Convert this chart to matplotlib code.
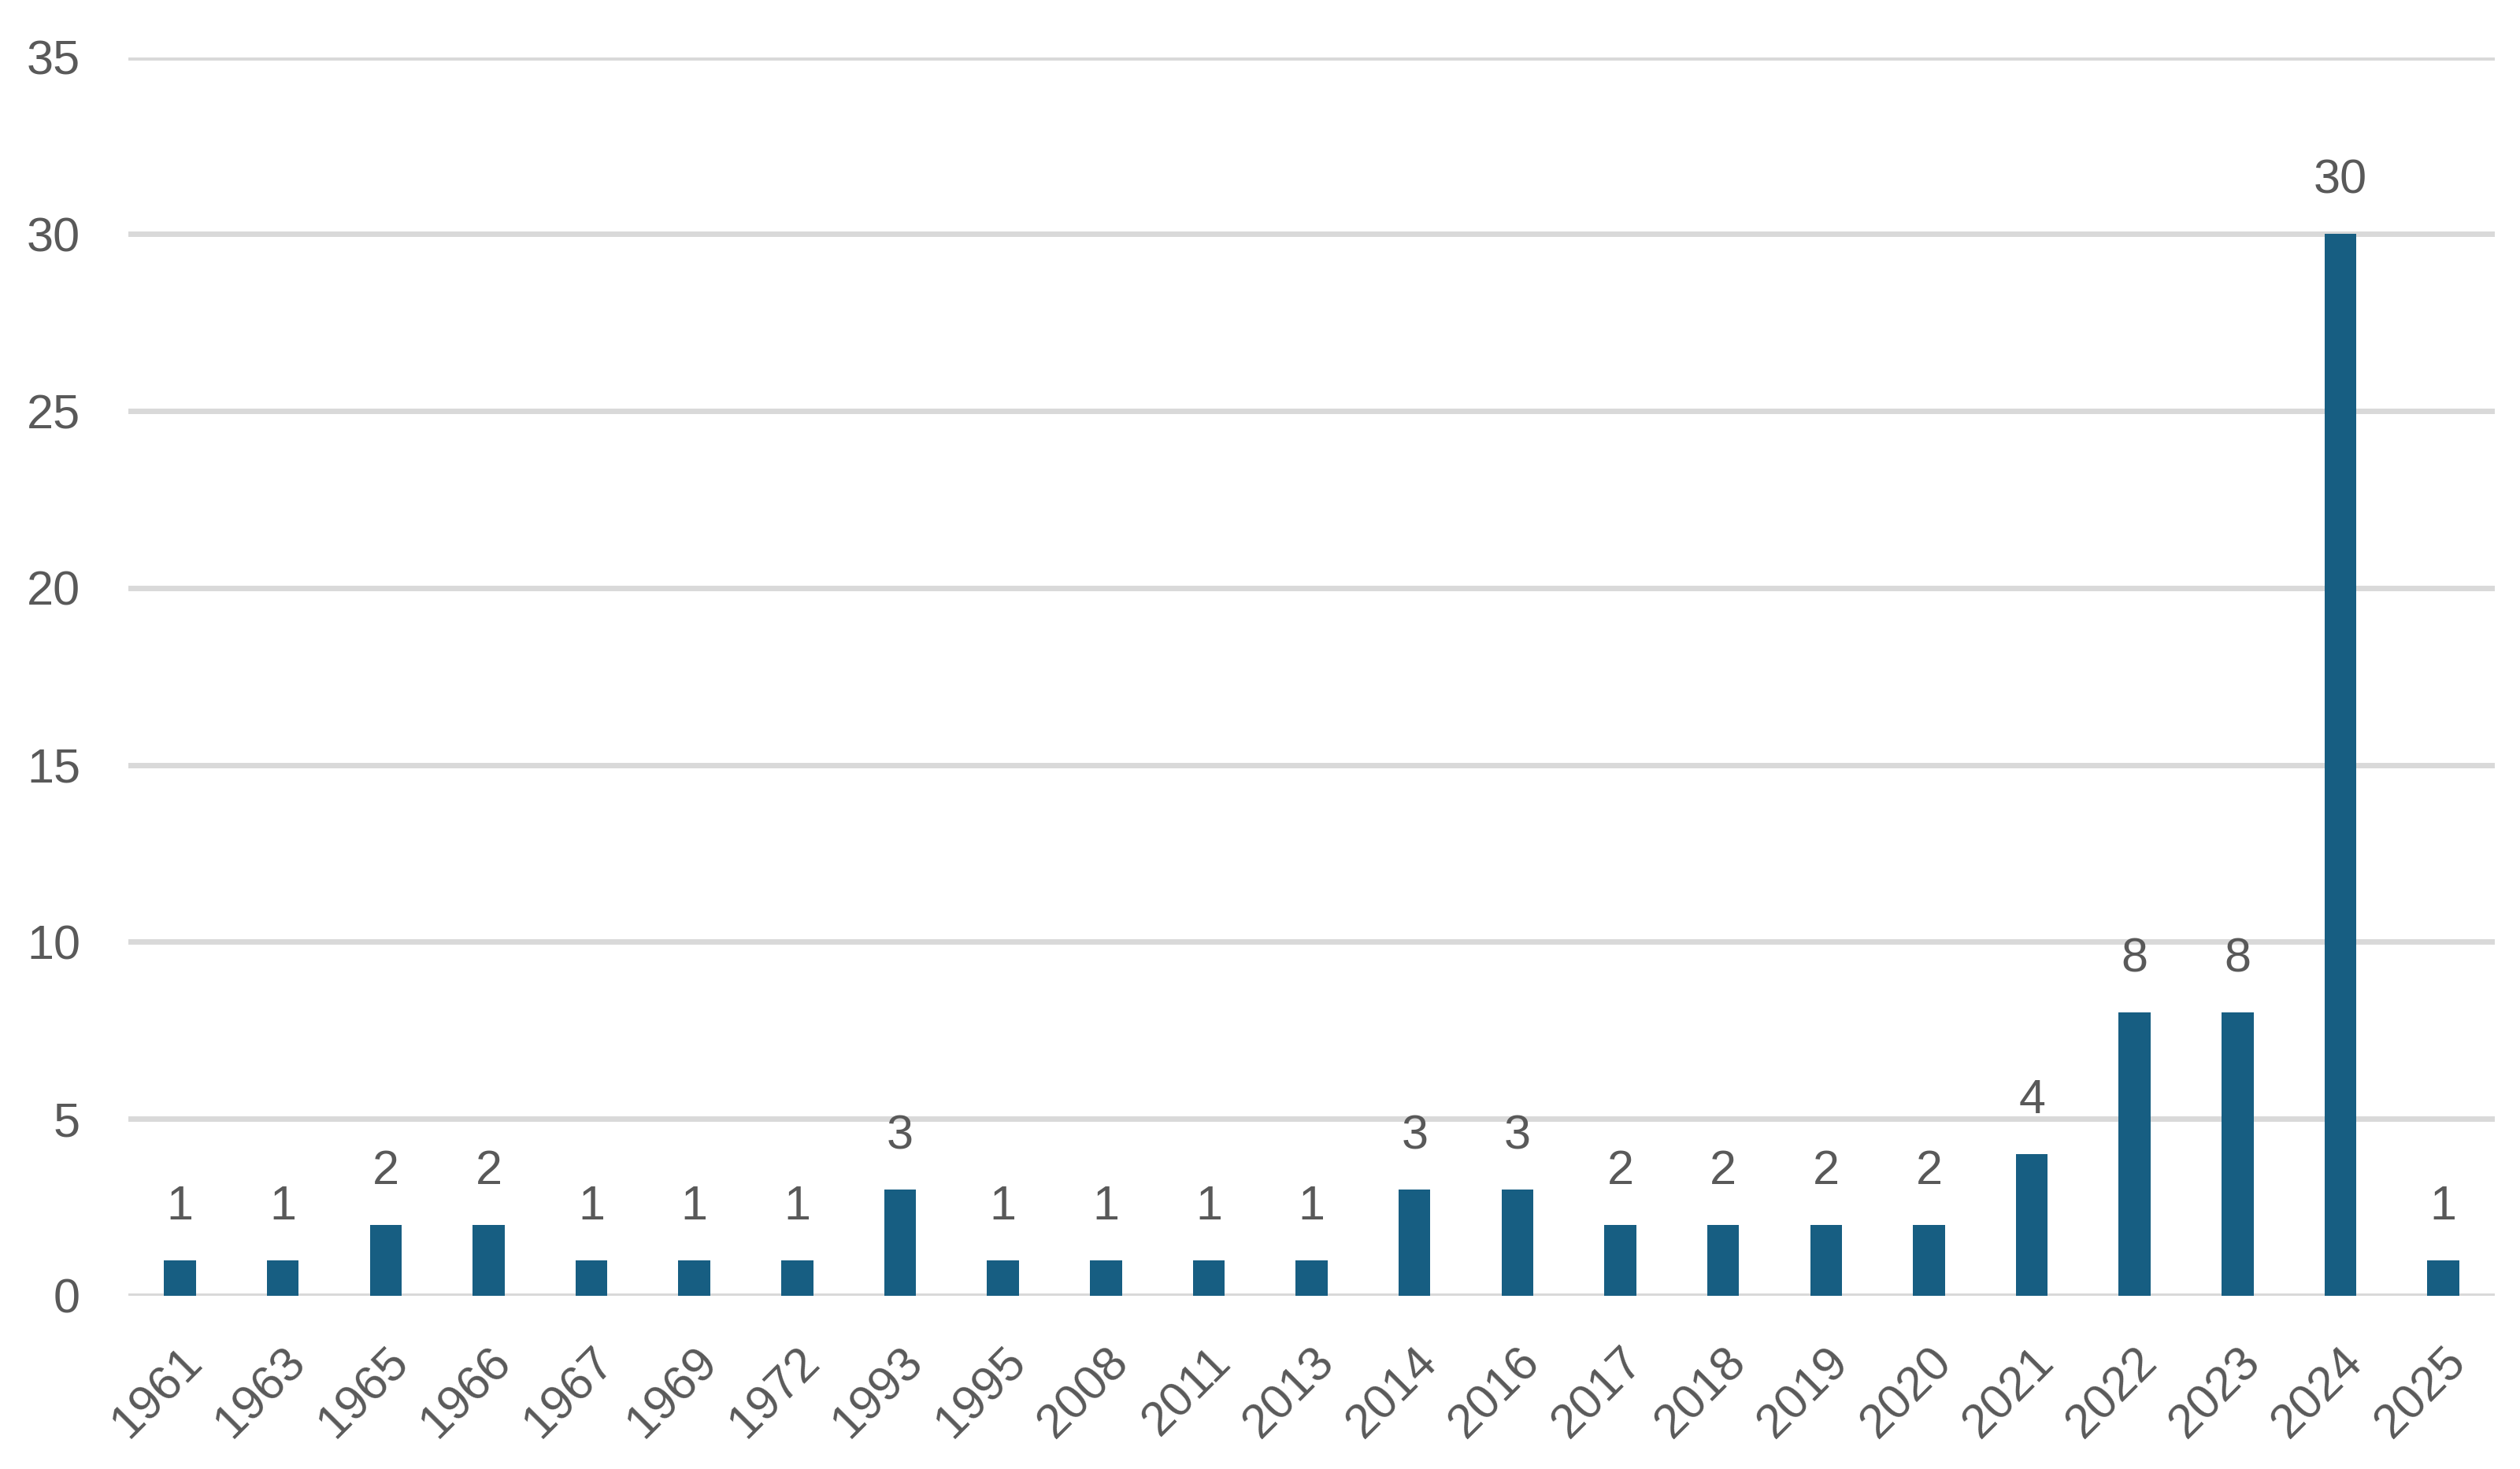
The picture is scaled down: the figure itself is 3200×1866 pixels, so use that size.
import matplotlib.pyplot as plt

years = ["1961", "1963", "1965", "1966", "1967", "1969", "1972", "1993", "1995", "2008",
         "2011", "2013", "2014", "2016", "2017", "2018", "2019", "2020", "2021", "2022",
         "2023", "2024", "2025"]
counts = [1, 1, 2, 2, 1, 1, 1, 3, 1, 1, 1, 1, 3, 3, 2, 2, 2, 2, 4, 8, 8, 30, 1]

plt.rcParams['font.family'] = ['Liberation Sans', 'DejaVu Sans']
text_col = "#595959"

fig = plt.figure(figsize=(16, 9.33), dpi=200)
ax = fig.add_axes([0.051, 0.118, 0.939, 0.843])

x = range(len(years))
ax.bar(x, counts, width=0.31, color="#175E82", zorder=3)

# value labels above bars
for i, v in enumerate(counts):
    ax.annotate(str(v), (i, v), xytext=(0, 14), textcoords="offset points",
                ha="center", va="bottom", fontsize=22, color=text_col)

ax.set_xlim(-0.5, len(years) - 0.5)
ax.set_ylim(0, 35)
ax.set_yticks(range(0, 36, 5))
ax.grid(axis="y", color="#D9D9D9", linewidth=2.5, zorder=0)
for s in ax.spines.values():
    s.set_visible(False)

ax.set_xticks(list(x))
ax.set_xticklabels(years, rotation=45, ha="right", rotation_mode="anchor")
ax.tick_params(axis="x", length=0, pad=20, labelsize=22, labelcolor=text_col)
ax.tick_params(axis="y", length=0, pad=22, labelsize=22, labelcolor=text_col)

plt.savefig("out.png")
plt.close()
